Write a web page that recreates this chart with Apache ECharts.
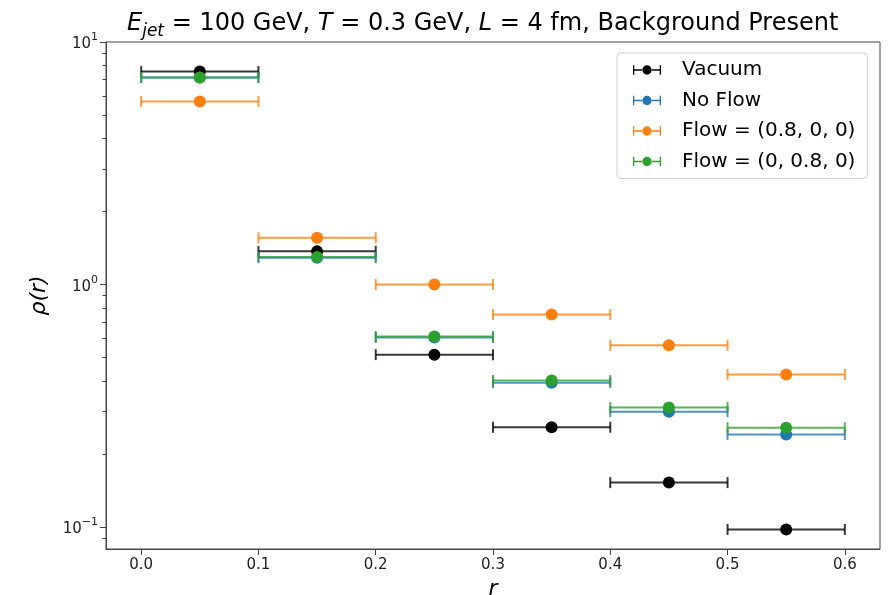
<!DOCTYPE html>
<html>
<head>
<meta charset="utf-8">
<script src="https://cdn.jsdelivr.net/npm/echarts@6/dist/echarts.min.js"></script>
<style>
  html, body { margin: 0; padding: 0; background: #fff; }
  #chart { width: 895px; height: 595px; }
</style>
</head>
<body>
<div id="chart"></div>
<script>
// Jet shape rho(r) per annular bin of width 0.1
const binCenters = [0.05, 0.15, 0.25, 0.35, 0.45, 0.55];
const binHalfWidth = 0.05;

const vacuum   = [7.55, 1.37, 0.514, 0.258, 0.1525, 0.0977];
const noFlow   = [7.14, 1.29, 0.605, 0.394, 0.299, 0.241];
const flowX    = [5.69, 1.56, 1.00, 0.752, 0.562, 0.426];
const flowY    = [7.14, 1.30, 0.610, 0.402, 0.311, 0.257];

const seriesNames  = ['Vacuum', 'No Flow', 'Flow = (0.8, 0, 0)', 'Flow = (0, 0.8, 0)'];
const seriesValues = [vacuum, noFlow, flowX, flowY];
const seriesColors = ['#000000', '#1f77b4', '#ff7f0e', '#2ca02c'];

const xTicks      = [0.0, 0.1, 0.2, 0.3, 0.4, 0.5, 0.6];
const yMajorTicks = [0.1, 1, 10];
const yMinorTicks = [0.09, 0.2, 0.3, 0.4, 0.5, 0.6, 0.7, 0.8, 0.9, 2, 3, 4, 5, 6, 7, 8, 9];

const FONT = 'DejaVu Sans';

// legend glyph: horizontal error bar with end caps and a dot in the middle
const errIcon = 'path://M0,1 L1.4,1 L1.4,5.3 L9.6,5.3 L9.6,6.7 L1.4,6.7 L1.4,11 L0,11 Z ' +
  'M20.4,5.3 L28.6,5.3 L28.6,1 L30,1 L30,11 L28.6,11 L28.6,6.7 L20.4,6.7 Z ' +
  'M10,6 A5,5 0 1,1 20,6 A5,5 0 1,1 10,6 Z';

function renderErrorPoint(params, api) {
  const color = api.visual('color');
  const x = api.value(0), y = api.value(1), e = api.value(2);
  const left = api.coord([x - e, y]);
  const right = api.coord([x + e, y]);
  const mid = api.coord([x, y]);
  const cap = 5.5;
  const barStyle = { stroke: color, lineWidth: 2, opacity: 0.78 };
  return {
    type: 'group',
    children: [
      { type: 'line', shape: { x1: left[0], y1: left[1], x2: right[0], y2: right[1] }, style: barStyle },
      { type: 'line', shape: { x1: left[0], y1: left[1] - cap, x2: left[0], y2: left[1] + cap }, style: barStyle },
      { type: 'line', shape: { x1: right[0], y1: right[1] - cap, x2: right[0], y2: right[1] + cap }, style: barStyle },
      { type: 'circle', shape: { cx: mid[0], cy: mid[1], r: 6 }, style: { fill: color } }
    ]
  };
}

const series = seriesNames.map((name, k) => ({
  name: name,
  type: 'custom',
  xAxisIndex: 0,
  yAxisIndex: 0,
  color: seriesColors[k],
  renderItem: renderErrorPoint,
  encode: { x: 0, y: 1 },
  data: binCenters.map((c, i) => [c, seriesValues[k][i], binHalfWidth]),
  z: 2 + k
}));

const supDigits = { '-1': '\u22121', '0': '0', '1': '1' };

const option = {
  animation: false,
  backgroundColor: '#ffffff',
  title: {
    text: '{i|E}{s|jet}{n| = 100 GeV, }{i|T}{n| = 0.3 GeV, }{i|L}{n| = 4 fm, Background Present}',
    left: 122,
    top: 2,
    textStyle: {
      fontWeight: 'normal',
      rich: {
        i: { fontFamily: FONT, fontSize: 24, fontWeight: 'normal', fontStyle: 'italic', color: '#000', lineHeight: 33, verticalAlign: 'middle' },
        n: { fontFamily: FONT, fontSize: 24, fontWeight: 'normal', color: '#000', lineHeight: 33, verticalAlign: 'middle' },
        s: { fontFamily: FONT, fontSize: 17, fontWeight: 'normal', fontStyle: 'italic', color: '#000', lineHeight: 33, verticalAlign: 'bottom' }
      }
    }
  },
  legend: {
    orient: 'vertical',
    left: 617,
    top: 53,
    padding: [7, 12, 7, 16],
    itemGap: 10.5,
    itemWidth: 28,
    itemHeight: 12,
    borderColor: '#d0d0d0',
    borderWidth: 1,
    borderRadius: 4,
    backgroundColor: '#ffffff',
    textStyle: { fontFamily: FONT, fontSize: 20, lineHeight: 20, color: '#000', padding: [0, 0, 0, 16] },
    data: seriesNames.map(n => ({ name: n, icon: errIcon }))
  },
  grid: {
    left: 106, right: 15, top: 42, bottom: 46,
    containLabel: false,
    outerBoundsMode: 'none',
    show: true, borderColor: '#444', borderWidth: 1, backgroundColor: '#fff'
  },
  xAxis: {
    type: 'value',
    min: -0.03,
    max: 0.63,
    name: 'r',
    nameLocation: 'middle',
    nameGap: 29,
    nameTextStyle: { fontFamily: FONT, fontSize: 22, fontStyle: 'italic', color: '#000' },
    axisLine: { show: true, onZero: false, lineStyle: { color: '#444', width: 1 } },
    axisTick: { show: true, length: 6, lineStyle: { color: '#444' }, customValues: xTicks },
    axisLabel: {
      fontFamily: FONT, fontSize: 15, color: '#222', margin: 9,
      customValues: xTicks,
      formatter: v => v.toFixed(1)
    },
    splitLine: { show: false }
  },
  yAxis: [
    {
      type: 'log',
      logBase: 10,
      min: 0.0812,
      max: 10,
      name: '\u03c1(r)',
      nameLocation: 'middle',
      nameGap: 56,
      nameTextStyle: { fontFamily: FONT, fontSize: 22, fontStyle: 'italic', color: '#000' },
      axisLine: { show: true, onZero: false, lineStyle: { color: '#444', width: 1 } },
      axisTick: { show: true, length: 6, lineStyle: { color: '#444' }, customValues: yMajorTicks },
      axisLabel: {
        margin: 8,
        customValues: yMajorTicks,
        formatter: v => {
          const p = Math.round(Math.log10(v));
          return '{b|10}{e|' + supDigits[String(p)] + '}';
        },
        rich: {
          b: { fontFamily: FONT, fontSize: 15, color: '#222', verticalAlign: 'bottom', lineHeight: 20 },
          e: { fontFamily: FONT, fontSize: 11, color: '#222', verticalAlign: 'top', lineHeight: 20, padding: [0, 0, 6, 0] }
        }
      },
      splitLine: { show: false }
    },
    {
      type: 'log',
      logBase: 10,
      min: 0.0812,
      max: 10,
      position: 'left',
      axisLine: { show: false, onZero: false },
      axisTick: { show: true, length: 3.5, lineStyle: { color: '#444' }, customValues: yMinorTicks },
      axisLabel: { show: false },
      splitLine: { show: false }
    }
  ],
  series: series
};

const chart = echarts.init(document.getElementById('chart'), null, { renderer: 'canvas' });
chart.setOption(option);
</script>
</body>
</html>
